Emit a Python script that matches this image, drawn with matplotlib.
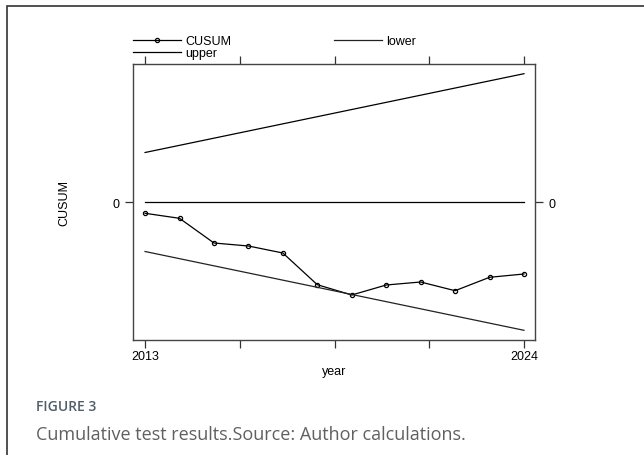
import matplotlib.pyplot as plt
from matplotlib.patches import Rectangle

# CUSUM test values (arbitrary units)
years = [2013, 2014, 2015, 2016, 2017, 2018, 2019, 2020, 2021, 2022, 2023, 2024]
cusum = [-1.13, -1.63, -4.10, -4.40, -5.10, -8.27, -9.30, -8.30, -8.00, -8.87, -7.53, -7.20]
bound_years = [2013, 2024]
upper = [4.95, 12.83]
lower = [-4.95, -12.83]

plt.rcParams['font.family'] = ['Liberation Sans', 'DejaVu Sans']

fig = plt.figure(figsize=(6.44, 4.56), dpi=100)
W, H = 644, 456

# outer frame of the figure panel
fig.patches.append(Rectangle((7 / W, -0.1), 1.2, 1 - 7 / H + 0.1, transform=fig.transFigure,
                             fill=False, edgecolor='#333333', linewidth=1.2))

ax = fig.add_axes([133 / W, 1 - 341 / H, (535 - 133) / W, (341 - 65) / H])

ax.plot(years, cusum, color='black', linewidth=0.9, marker='o', markersize=3,
        markerfacecolor='none', markeredgewidth=0.9, label='CUSUM')
ax.plot(bound_years, upper, color='black', linewidth=0.9, label='upper')
ax.plot(bound_years, lower, color='#222222', linewidth=0.9, label='lower')
ax.plot(bound_years, [0, 0], color='black', linewidth=0.9)

ax.set_xlim(2012.65, 2024.32)
ax.set_ylim(-13.8, 13.8)

xt = [2013, 2015.75, 2018.5, 2021.25, 2024]
ax.set_xticks(xt)
ax.set_xticklabels(['2013', '', '', '', '2024'])
ax.set_yticks([0])
ax.set_yticklabels(['0'])
ax.tick_params(axis='both', direction='out', length=6, width=0.9, color='#333333',
               labelsize=9, top=True, right=True, labelright=True, pad=1)
ax.tick_params(axis='y', pad=4)

for s in ax.spines.values():
    s.set_color('#444444')
    s.set_linewidth(1.0)

ax.set_xlabel('year', fontsize=9, labelpad=2)
ax.set_ylabel('CUSUM', fontsize=9, labelpad=30)

ax.legend(ncol=2, loc='lower left', bbox_to_anchor=(0, 1.017),
          frameon=False, fontsize=9, handlelength=3.8, handletextpad=0.4,
          borderaxespad=0, borderpad=0, labelspacing=0.0, columnspacing=8.2)

fig.text(36 / W, 1 - 411 / H, 'FIGURE 3', fontsize=10, color='#4f5d68',
         family=['Open Sans', 'DejaVu Sans'], fontweight='semibold')
fig.text(36 / W, 1 - 440 / H, 'Cumulative test results.Source: Author calculations.',
         fontsize=13, color='#606060', family=['Open Sans', 'DejaVu Sans'])

fig.savefig('out.png', dpi=100)
